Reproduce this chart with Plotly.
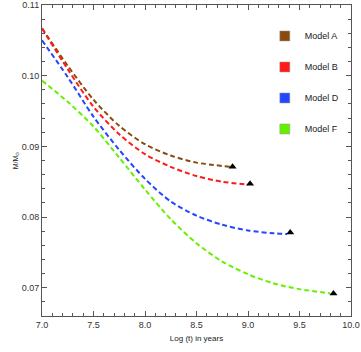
import plotly.graph_objects as go

# values
model_names = ["Model A", "Model B", "Model D", "Model F"]
colors = ["#8B4A0E", "#FF1A1A", "#2546FF", "#66F000"]

logt_a = [7.0, 7.25, 7.5, 7.75, 8.0, 8.25, 8.5, 8.84]
mass_a = [0.1067, 0.1014, 0.0966, 0.0929, 0.0903, 0.0887, 0.0877, 0.0871]

logt_b = [7.0, 7.25, 7.5, 7.75, 8.0, 8.25, 8.5, 8.75, 9.0]
mass_b = [0.1067, 0.1009, 0.0956, 0.0917, 0.0889, 0.0871, 0.0858, 0.0850, 0.0846]

logt_d = [7.0, 7.25, 7.5, 7.75, 8.0, 8.25, 8.5, 8.75, 9.0, 9.25, 9.38]
mass_d = [0.1050, 0.0998, 0.0942, 0.0895, 0.0854, 0.0822, 0.0802, 0.0789, 0.0781, 0.0777, 0.0776]

logt_f = [7.0, 7.25, 7.5, 7.75, 8.0, 8.25, 8.5, 8.75, 9.0, 9.25, 9.5, 9.8]
mass_f = [0.0993, 0.0963, 0.0928, 0.0884, 0.0839, 0.0797, 0.0763, 0.0737, 0.0719, 0.0706, 0.0698, 0.0692]

# end points (triangles)
end_logt = [8.85, 9.02, 9.41, 9.83]
end_mass = [0.0871, 0.0847, 0.0778, 0.0692]

series = [(logt_a, mass_a), (logt_b, mass_b), (logt_d, mass_d), (logt_f, mass_f)]

fig = go.Figure()

for (xs, ys), col in zip(series, colors):
    fig.add_trace(go.Scatter(
        x=xs, y=ys, mode="lines",
        line=dict(color=col, width=2, dash="5px,3px", shape="spline", smoothing=0.8),
        showlegend=False,
    ))

fig.add_trace(go.Scatter(
    x=end_logt, y=end_mass, mode="markers",
    marker=dict(symbol="triangle-up", size=7, color="black"),
    showlegend=False,
))

# legend entries: coloured squares
for i, (name, col) in enumerate(zip(model_names, colors)):
    fig.add_trace(go.Scatter(
        x=[None], y=[None], mode="markers", name=name,
        legendgroup=f"g{i}",
        marker=dict(symbol="square", size=10, color=col,
                    line=dict(color="#999999", width=0.5)),
    ))

axis_common = dict(
    showgrid=False, zeroline=False, mirror="allticks", showline=True,
    linecolor="#555555", linewidth=1, ticks="inside", ticklen=5,
    tickcolor="#555555", automargin=False,
    tickfont=dict(family="Liberation Sans, Arial", size=9, color="#333333"),
)

fig.update_xaxes(
    range=[7.0, 10.0], dtick=0.5, tick0=7.0, tickformat=".1f",
    minor=dict(dtick=0.1, ticks="inside", ticklen=3, tickcolor="#555555"),
    title=dict(text="Log (t) in years", font=dict(size=8, color="#222222"), standoff=6),
    **axis_common,
)
fig.update_yaxes(
    range=[0.066, 0.11], dtick=0.01, tick0=0.07, tickformat=".2f",
    minor=dict(dtick=0.002, ticks="inside", ticklen=3, tickcolor="#555555"),
    title=dict(text="M/M<sub>\u2299</sub>", font=dict(size=7, color="#222222"), standoff=2),
    **axis_common,
)

fig.update_layout(
    width=361, height=352,
    margin=dict(l=42, r=10, t=5, b=36),
    paper_bgcolor="white", plot_bgcolor="white",
    font=dict(family="Liberation Sans, Arial"),
    legend=dict(
        x=0.98, y=0.947, xanchor="right", yanchor="top",
        font=dict(size=9, color="#222222"),
        tracegroupgap=12, bgcolor="rgba(0,0,0,0)",
    ),
)

# the page's default body margin would shift the figure by 8px
fig.write_html("out.html", config={"displayModeBar": False},
               post_script="document.body.style.margin='0';")
